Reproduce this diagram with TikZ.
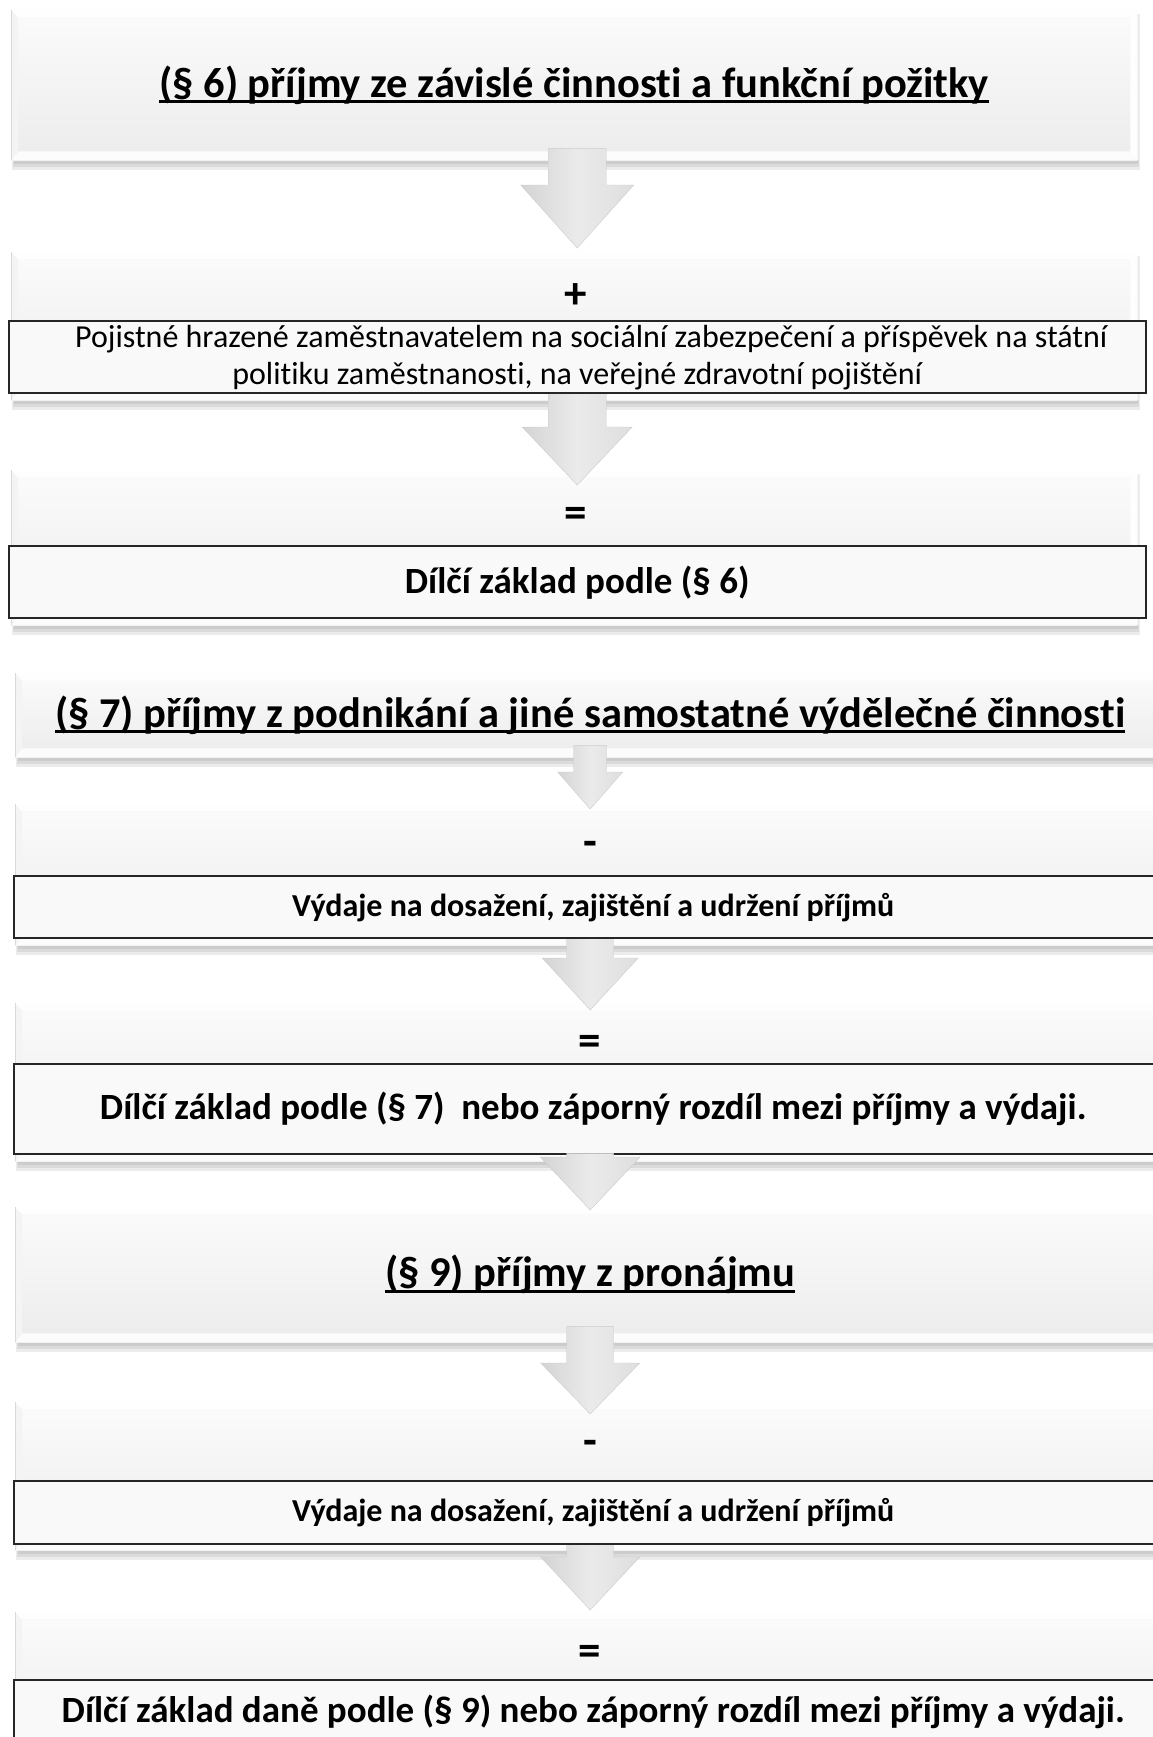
\documentclass[tikz,border=0pt]{standalone}
\usepackage{fontspec}
\setmainfont{Carlito}[Ligatures={NoCommon}]
\usetikzlibrary{calc}
\newcommand\ulx[1]{\setbox0\hbox{#1}\rlap{\rule[-0.14em]{\wd0}{0.07em}}\box0}
\newcommand\titlefont{\fontsize{42.5}{50}\selectfont\bfseries}
\tikzset{
  gface/.style={inner sep=0pt, top color=gray!3, bottom color=gray!15, draw=none},
  wface/.style={inner sep=0pt, fill=gray!5, draw=black!85, line width=2.4pt},
  symtxt/.style={inner sep=0pt, font=\fontsize{45}{48}\selectfont\bfseries},
  bodytxt/.style={font=\fontsize{37}{44}\selectfont\bfseries},
  smalltxt/.style={font=\fontsize{32}{38}\selectfont\bfseries},
  regtxt/.style={font=\fontsize{32}{37}\selectfont},
  arrowfill/.style={left color=gray!34, right color=gray!26, middle color=gray!16, draw=gray!40, line width=0.4pt},
}
% gray bevelled box: name, cx, ytop, ybot, width, text
\newcommand\gbox[6]{%
  \fill[gray!15] ({#2-#5/2+1},{#4-2}) rectangle ({#2+#5/2+3},{#4+10});
  \fill[gray!28] ({#2-#5/2+2},{#4-2}) rectangle ({#2+#5/2+2},{#4+7});
  \fill[gray!40] ({#2-#5/2+3},{#4-2}) rectangle ({#2+#5/2+1},{#4+4});
  \fill[gray!14] ({#2+#5/2},{#3+4}) rectangle ({#2+#5/2+3},{#4});
  \node[gface, minimum width=#5pt, minimum height={(#4-#3)*1pt}, anchor=north west] (#1) at ({#2-#5/2},#3) {#6};
  \fill[gray!2] (#1.south west) -- (#1.south east) -- ($(#1.south east)+(-7,-9)$) -- ($(#1.south west)+(7,-9)$) -- cycle;
  \fill[gray!1] (#1.north east) -- (#1.south east) -- ($(#1.south east)+(-7,-9)$) -- ($(#1.north east)+(-7,7)$) -- cycle;
  \fill[gray!9] (#1.north west) -- (#1.south west) -- ($(#1.south west)+(7,-9)$) -- ($(#1.north west)+(7,7)$) -- cycle;
  \fill[gray!1] (#1.north west) -- (#1.north east) -- ($(#1.north east)+(-7,7)$) -- ($(#1.north west)+(7,7)$) -- cycle;
  \draw[gray!30, line width=0.6pt] (#1.north west) -- (#1.south west);
}
% white framed box: name, cx, ytop, ybot, width, style, text
\newcommand\wbox[7]{%
  \node[wface, #6, minimum width=#5pt, minimum height={(#4-#3)*1pt}, anchor=north west, align=center] (#1) at ({#2-#5/2},#3) {#7};
}
% block arrow: name, from, to, dx, tail offset, tip offset, head length, shaft width, head width
\newcommand\barrow[9]{%
  \path[arrowfill] let \p1=($(#2.south)+(#4,#5)$), \p2=($(#3.north)+(#4,#6)$) in
    (\x1-#8/2,\y1) -- (\x1+#8/2,\y1) -- (\x1+#8/2,\y2+#7) -- (\x1+#9/2,\y2+#7)
    -- (\x1,\y2) -- (\x1-#9/2,\y2+#7) -- (\x1-#8/2,\y2+#7) -- cycle;
  \coordinate (#1) at ($(#3.north)+(#4,#6)$);
}
\begin{document}
\begin{tikzpicture}[x=1pt,y=-1pt]
\useasboundingbox (0,0) rectangle (1152,1737);
\fill[white] (0,0) rectangle (1152,1737);

% ---------- section 6 ----------
\gbox{g1}{574}{10}{160}{1126}{\titlefont\ulx{(§ 6) příjmy ze závislé činnosti a funkční požitky}}
\gbox{g2}{574}{252}{400}{1126}{}
\gbox{g3}{574}{470}{625}{1126}{}

\barrow{a1}{g1}{g2}{3}{-12}{-4}{63}{58}{113}
\barrow{a2}{g2}{g3}{3}{-8}{15}{58}{58}{110}

\wbox{w2}{576}{320}{392}{1137}{regtxt}{\hspace*{28pt}Pojistné hrazené zaměstnavatelem na sociální zabezpečení a příspěvek na státní\\politiku zaměstnanosti, na veřejné zdravotní pojištění}
\wbox{w3}{576}{545}{617}{1137}{bodytxt}{Dílčí základ podle (§ 6)}
\node[symtxt] (s1) at (576,296) {+};
\node[symtxt] (s2) at (576,517) {=};

% ---------- section 7 ----------
\gbox{g4}{590}{673}{757}{1150}{\titlefont\ulx{(§ 7) příjmy z podnikání a jiné samostatné výdělečné činnosti}}
\gbox{g5}{590}{804}{945}{1150}{}
\gbox{g6}{590}{1003}{1161}{1150}{}

\barrow{a3}{g4}{g5}{0}{-12}{5}{37}{33}{65}
\barrow{a4}{g5}{g6}{0}{-8}{7}{52}{47}{96}

\wbox{w5}{592}{875}{937}{1158}{smalltxt}{Výdaje na dosažení, zajištění a udržení příjmů}
\wbox{w6}{592}{1063}{1153}{1158}{bodytxt}{Dílčí základ podle (§ 7)\ \ nebo záporný rozdíl mezi příjmy a výdaji.}
\node[symtxt] (s3) at (590,849) {-};
\node[symtxt] (s4) at (590,1045) {=};

% ---------- section 9 ----------
\gbox{g7}{590}{1207}{1342}{1150}{\titlefont\ulx{(§ 9) příjmy z pronájmu}}
\gbox{g8}{590}{1402}{1550}{1150}{}
\gbox{g9}{590}{1612}{1760}{1150}{}

\barrow{a5}{g6}{g7}{0}{-8}{3}{53}{47}{100}
\barrow{a6}{g7}{g8}{0}{-16}{12}{51}{47}{99}
\barrow{a7}{g8}{g9}{0}{-8}{-2}{53}{47}{99}

\wbox{w8}{592}{1480}{1543}{1158}{smalltxt}{Výdaje na dosažení, zajištění a udržení příjmů}
\wbox{w9}{592}{1679}{1743}{1158}{bodytxt}{Dílčí základ daně podle (§ 9) nebo záporný rozdíl mezi příjmy a výdaji.}
\node[symtxt] (s5) at (590,1448) {-};
\node[symtxt] (s6) at (590,1655) {=};
\end{tikzpicture}
\end{document}
